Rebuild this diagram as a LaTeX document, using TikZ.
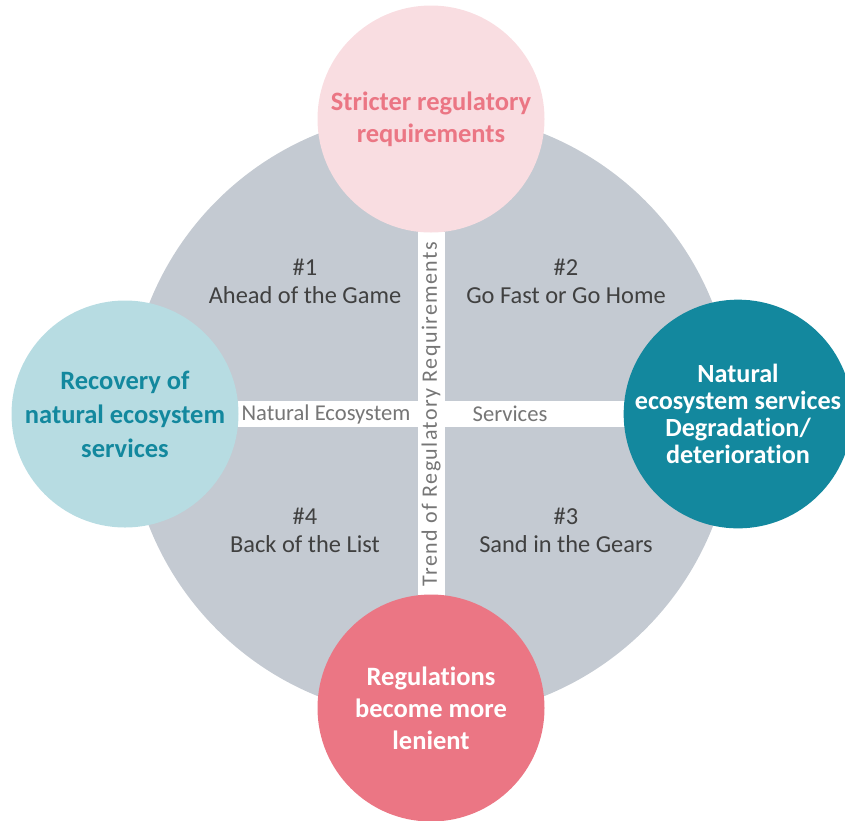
\documentclass[tikz,border=0pt]{standalone}
\usepackage{fontspec}
\setmainfont{Carlito}[Ligatures=NoCommon]
\usepackage{tikz}
\usetikzlibrary{shapes,backgrounds}

\definecolor{ringgray}{RGB}{196,202,210}
\definecolor{softpink}{RGB}{249,221,225}
\definecolor{rosepink}{RGB}{235,118,132}
\definecolor{softteal}{RGB}{183,220,226}
\definecolor{deepteal}{RGB}{19,136,158}
\definecolor{darktext}{RGB}{64,64,64}
\definecolor{bartext}{RGB}{118,118,118}

\begin{document}
\begin{tikzpicture}[x=1pt,y=-1pt,
  bubble/.style={circle,minimum size=227pt,inner sep=0pt,align=center},
  quad/.style={align=center,text=darktext,font=\fontsize{24.4}{28}\selectfont},
  axis/.style={text=bartext,inner sep=0pt,font=\fontsize{22.6}{24}\selectfont}]

\useasboundingbox (0,0) rectangle (845,820);

\fill[ringgray] (431,415) circle (303pt);

% white cross
\fill[white] (418,232) rectangle (445,596);
\fill[white] (237,401) rectangle (625,427);

\node[axis] (natural) at (326,414) {Natural Ecosystem};
\node[axis] (services) at (510,414) {Services};
\node[axis,rotate=90,font=\fontsize{22}{24}\selectfont\addfontfeature{LetterSpace=6.3}]
  (trend) at (431,414) {Trend of Regulatory Requirements};

\foreach \n/\x/\y/\t in {1/305/281/Ahead of the Game, 2/566/281/Go Fast or Go Home,
                          4/305/530/Back of the List, 3/566/530/Sand in the Gears}
\node[quad] (q\n) at (\x,\y) {\#\n\\\t};

\node[bubble,fill=softpink,text=rosepink,font=\bfseries\fontsize{26.5}{32}\selectfont]
  (stricter) at (431,119) {Stricter regulatory\\requirements};
\node[bubble,fill=softteal,text=deepteal,font=\bfseries\fontsize{26.5}{34}\selectfont]
  (recovery) at (125,414) {Recovery of\\natural ecosystem\\services};
\node[bubble,fill=deepteal,text=white,font=\bfseries\fontsize{26.2}{27}\selectfont]
  (degradation) at (738,414) {Natural\\ecosystem services\\Degradation/\\deterioration};
\node[bubble,fill=rosepink,text=white,font=\bfseries\fontsize{26.5}{32}\selectfont]
  (lenient) at (431,708) {Regulations\\become more\\lenient};
\end{tikzpicture}
\end{document}
